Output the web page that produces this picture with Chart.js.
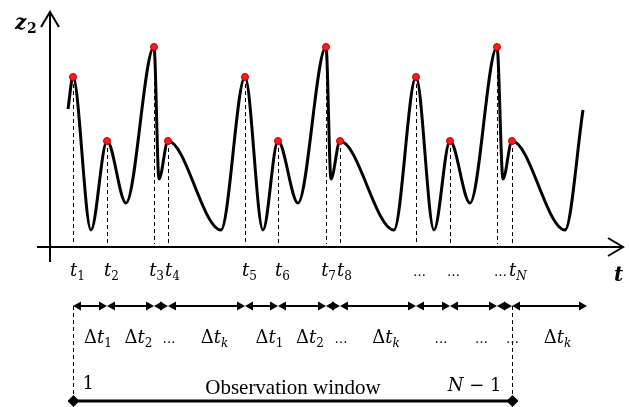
<!DOCTYPE html>
<html>
<head>
<meta charset="utf-8">
<script src="https://cdn.jsdelivr.net/npm/chart.js@4.4.0/dist/chart.umd.min.js"></script>
<style>
  html, body { margin: 0; padding: 0; background: #fff; }
  #wrap { width: 629px; height: 407px; position: relative; }
</style>
</head>
<body>
<div id="wrap"><canvas id="chart"></canvas></div>
<script>
// z2 signal (arbitrary time / amplitude units)
const peakTimes  = [23, 57, 104, 118, 195, 228, 276, 290, 366, 400, 447, 462];
const peakValues = [170, 106, 200, 106, 170, 106, 200, 106, 170, 106, 200, 106];
// start, valleys between peaks, end
const knotTimes  = [18, 41, 76, 109, 171, 213, 248, 281, 344, 384, 420, 453, 515, 533];
const knotValues = [138, 17, 44, 68, 17, 17, 44, 68, 17, 17, 44, 68, 17, 137];

// labels under the time axis (one per peak) and for each interval
const peakLabels = ['t1', 't2', 't3', 't4', 't5', 't6', 't7', 't8', '…', '…', '…', 'tN'];
const intervalLabels = ['Δt1', 'Δt2', '…', 'Δtk', 'Δt1', 'Δt2', '…', 'Δtk', '…', '…', '…', 'Δtk'];
const intervalEnd = 537;   // last interval runs past t_N
const axisMaxT = 573;
const axisMaxZ = 235;

const curve = peakTimes.map((t, i) => ({ x: t, y: peakValues[i] }))
  .concat(knotTimes.map((t, i) => ({ x: t, y: knotValues[i] })))
  .sort((a, b) => a.x - b.x);
const peaks = peakTimes.map((t, i) => ({ x: t, y: peakValues[i] }));

const SERIF = '"Liberation Serif", serif';
const MATH = '"DejaVu Serif", serif';

// draw a math-ish label: 'Δ' upright, first letter italic, rest subscript
function drawMath(ctx, label, x, y, align, size) {
  const parts = [];
  if (label === '…') {
    parts.push({ t: '…', f: `${size - 5}px ${MATH}`, dy: 0 });
  } else {
    let s = label;
    if (s[0] === 'Δ') { parts.push({ t: 'Δ', f: `${size}px ${MATH}`, dy: 0 }); s = s.slice(1); }
    parts.push({ t: s[0], f: `italic ${size}px ${MATH}`, dy: 0 });
    if (s.length > 1) {
      const sub = s.slice(1);
      const it = /[A-Za-z]/.test(sub) ? 'italic ' : '';
      parts.push({ t: sub, f: `${it}${Math.round(size * 0.68)}px ${MATH}`, dy: 4 });
    }
  }
  let w = 0;
  parts.forEach(p => { ctx.font = p.f; p.w = ctx.measureText(p.t).width; w += p.w; });
  let cx = align === 'center' ? x - w / 2 : align === 'right' ? x - w : x;
  ctx.textAlign = 'left';
  ctx.textBaseline = 'alphabetic';
  parts.forEach(p => { ctx.font = p.f; ctx.fillText(p.t, cx, y + p.dy); cx += p.w; });
  return w;
}

function mathWidth(ctx, label, size) {
  ctx.save(); ctx.globalAlpha = 0;
  const w = drawMath(ctx, label, 0, 0, 'left', size);
  ctx.restore();
  return w;
}

function arrowHead(ctx, tipX, y, dir) {
  ctx.beginPath();
  ctx.moveTo(tipX, y);
  ctx.lineTo(tipX + dir * 8, y - 4.5);
  ctx.lineTo(tipX + dir * 8, y + 4.5);
  ctx.closePath();
  ctx.fill();
}

function diamond(ctx, cx, cy, r) {
  ctx.beginPath();
  ctx.moveTo(cx, cy - r); ctx.lineTo(cx + r, cy); ctx.lineTo(cx, cy + r); ctx.lineTo(cx - r, cy);
  ctx.closePath();
  ctx.fill();
}

const sketch = {
  id: 'sketch',
  beforeDatasetsDraw(chart) {
    const { ctx, chartArea: a, scales: { x, y } } = chart;
    const x0 = x.getPixelForValue(0), y0 = y.getPixelForValue(0);
    ctx.save();
    ctx.strokeStyle = '#000';
    ctx.fillStyle = '#000';

    // dashed drops from each peak
    ctx.lineWidth = 1;
    ctx.setLineDash([4, 3]);
    peakTimes.forEach((t, i) => {
      const px = Math.round(x.getPixelForValue(t)) + 0.5;
      ctx.beginPath();
      ctx.moveTo(px, y.getPixelForValue(peakValues[i]));
      ctx.lineTo(px, y0 - 3);
      ctx.stroke();
    });
    ctx.setLineDash([]);

    // axes with open arrows
    ctx.lineWidth = 2;
    ctx.beginPath();
    ctx.moveTo(x0, y0 + 15); ctx.lineTo(x0, a.top);
    ctx.moveTo(x0 - 13, y0); ctx.lineTo(a.right, y0);
    ctx.stroke();
    ctx.beginPath();
    ctx.moveTo(x0 - 9, a.top + 15); ctx.lineTo(x0, a.top); ctx.lineTo(x0 + 9, a.top + 15);
    ctx.moveTo(a.right - 15, y0 - 9); ctx.lineTo(a.right, y0); ctx.lineTo(a.right - 15, y0 + 9);
    ctx.stroke();

    // axis names
    ctx.textBaseline = 'alphabetic';
    ctx.textAlign = 'left';
    ctx.font = `bold italic 20px ${MATH}`;
    ctx.fillText('z', 15, 29);
    ctx.font = `bold 14px ${MATH}`;
    ctx.fillText('2', 27, 33);
    ctx.font = `bold italic 20px ${MATH}`;
    ctx.fillText('t', 614, 281);
    ctx.restore();
  },
  afterDatasetsDraw(chart) {
    const { ctx, scales: { x, y } } = chart;
    const y0 = y.getPixelForValue(0);
    const size = 18;
    ctx.save();
    ctx.fillStyle = '#000';
    ctx.strokeStyle = '#000';

    // peak labels, nudged left when they would run into the next one
    const lefts = peakTimes.map(t => x.getPixelForValue(t) - 3);
    const widths = peakLabels.map(l => mathWidth(ctx, l, size));
    for (let i = peakLabels.length - 2; i >= 0; i--) {
      if (lefts[i] + widths[i] > lefts[i + 1] - 1) lefts[i] = lefts[i + 1] - 1 - widths[i];
    }
    peakLabels.forEach((l, i) => drawMath(ctx, l, lefts[i], y0 + 29, 'left', size));

    // interval arrows
    const rowY = y0 + 59;
    const bounds = peakTimes.concat([intervalEnd]).map(t => x.getPixelForValue(t));
    ctx.lineWidth = 2;
    for (let i = 0; i < bounds.length - 1; i++) {
      const p = bounds[i], q = bounds[i + 1];
      ctx.beginPath(); ctx.moveTo(p + 4, rowY); ctx.lineTo(q - 4, rowY); ctx.stroke();
      arrowHead(ctx, p, rowY, 1);
      arrowHead(ctx, q, rowY, -1);
      drawMath(ctx, intervalLabels[i], (p + q) / 2 + 8, y0 + 96, 'center', size);
    }

    // observation window
    const wL = Math.round(bounds[0]) + 0.5, wR = Math.round(bounds[peakTimes.length - 1]) + 0.5;
    const winY = y0 + 154;
    ctx.lineWidth = 1;
    ctx.setLineDash([4, 3]);
    ctx.beginPath();
    ctx.moveTo(wL, rowY); ctx.lineTo(wL, winY);
    ctx.moveTo(wR, rowY); ctx.lineTo(wR, winY);
    ctx.stroke();
    ctx.setLineDash([]);
    ctx.lineWidth = 3;
    ctx.beginPath(); ctx.moveTo(wL, winY); ctx.lineTo(wR, winY); ctx.stroke();
    diamond(ctx, wL, winY, 6);
    diamond(ctx, wR, winY, 6);

    ctx.textBaseline = 'alphabetic';
    ctx.font = `18px ${MATH}`;
    ctx.textAlign = 'left';
    ctx.fillText('1', wL + 9, y0 + 142);
    ctx.font = `21px ${SERIF}`;
    ctx.textAlign = 'center';
    ctx.fillText('Observation window', (wL + wR) / 2, y0 + 147);
    ctx.textAlign = 'right';
    ctx.font = `18px ${MATH}`;
    const tail = ' − 1';
    const tw = ctx.measureText(tail).width;
    ctx.fillText(tail, wR - 11, y0 + 144);
    ctx.font = `italic 18px ${MATH}`;
    ctx.fillText('N', wR - 11 - tw, y0 + 144);
    ctx.restore();
  }
};

new Chart(document.getElementById('chart'), {
  type: 'line',
  data: {
    datasets: [
      {
        label: 'peaks',
        data: peaks,
        showLine: false,
        pointRadius: 3.5,
        pointBackgroundColor: '#ff1a1a',
        pointBorderColor: '#c00000',
        pointBorderWidth: 1,
        clip: false
      },
      {
        label: 'z2',
        data: curve,
        borderColor: '#000',
        borderWidth: 3,
        pointRadius: 0,
        cubicInterpolationMode: 'monotone',
        fill: false,
        clip: false
      }
    ]
  },
  options: {
    responsive: true,
    maintainAspectRatio: false,
    animation: false,
    layout: { padding: { left: 50, right: 6, top: 12, bottom: 160 } },
    plugins: { legend: { display: false }, tooltip: { enabled: false } },
    events: [],
    scales: {
      x: { type: 'linear', min: 0, max: axisMaxT, display: false },
      y: { type: 'linear', min: 0, max: axisMaxZ, display: false }
    }
  },
  plugins: [sketch]
});
</script>
</body>
</html>
